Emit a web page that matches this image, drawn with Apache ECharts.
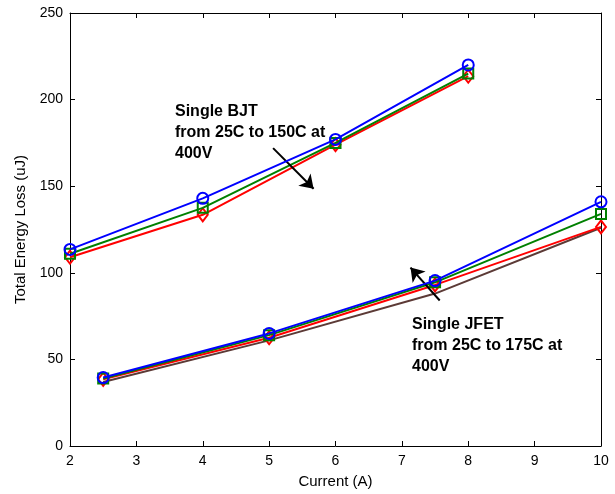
<!DOCTYPE html>
<html><head><meta charset="utf-8">
<script src="https://cdn.jsdelivr.net/npm/echarts@6/dist/echarts.min.js"></script>
<style>html,body{margin:0;padding:0;background:#fff}#c{width:615px;height:494px}</style>
</head><body><div id="c"></div>
<script>
const xTicks = [2,3,4,5,6,7,8,9,10];
const yTicks = [0,50,100,150,200,250];
const bjtCurrent = [2,4,6,8];
const bjtBlue = [113.5,143,177,220];
const bjtGreen = [111,137.5,175,215];
const bjtRed = [109,133.5,174,213.5];
const jfetCurrent = [2.5,5,7.5,10];
const jfetBlue = [39.5,65,95.5,141];
const jfetGreen = [39,64,94.5,134];
const jfetRed = [38.5,62.5,93,126.5];
const jfetBrown = [37,61,88,126];
const bjtArrow = [[5.06,172],[5.67,148.5]];
const jfetArrow = [[7.57,84],[7.13,103]];
const bjtText = 'Single BJT\nfrom 25C to 150C at\n400V';
const jfetText = 'Single JFET\nfrom 25C to 175C at\n400V';

const pair = (xs, ys) => xs.map((x,i)=>[x, ys[i]]);
const FONT = 'Liberation Sans, Arial, sans-serif';

function mk(name, xs, ys, color, symbol, size, z) {
  return {
    type:'line', name, data: pair(xs, ys), z: z,
    symbol: symbol, symbolSize: size, showSymbol: symbol !== 'none',
    lineStyle:{color, width:2},
    itemStyle:{color:'rgba(0,0,0,0)', borderColor:color, borderWidth:2},
    emphasis:{disabled:true}, animation:false
  };
}
function arrow(pts) {
  return {
    type:'line', data:[], silent:true, z:10,
    markLine:{
      silent:true, animation:false,
      symbol:['none','arrow'], symbolSize:13,
      lineStyle:{color:'#000', width:2, type:'solid'},
      itemStyle:{color:'#000'},
      label:{show:false},
      emphasis:{disabled:true},
      data:[[{coord:pts[0]},{coord:pts[1]}]]
    }
  };
}
const axisCommon = {
  axisLine:{show:true, onZero:false, lineStyle:{color:'#000', width:1}},
  axisTick:{show:true, inside:true, length:5, lineStyle:{color:'#000'}},
  splitLine:{show:false}
};
const chart = echarts.init(document.getElementById('c'), null, {renderer:'canvas'});
chart.setOption({
  backgroundColor:'#fff',
  animation:false,
  grid:{left:70, right:14, top:13, bottom:48},
  xAxis:[
    Object.assign({type:'value', min:2, max:10, interval:1, position:'bottom',
      name:'Current (A)', nameLocation:'middle', nameGap:28,
      nameTextStyle:{fontFamily:FONT, fontSize:15, color:'#000'},
      axisLabel:{fontFamily:FONT, fontSize:14, color:'#000', margin:8}}, axisCommon),
    Object.assign({type:'value', min:2, max:10, interval:1, position:'top',
      axisLabel:{show:false}}, axisCommon)
  ],
  yAxis:[
    Object.assign({type:'value', min:0, max:250, interval:50, position:'left',
      name:'Total Energy Loss (uJ)', nameLocation:'middle', nameGap:40,
      nameTextStyle:{fontFamily:FONT, fontSize:15, color:'#000'},
      axisLabel:{fontFamily:FONT, fontSize:14, color:'#000', margin:7}}, axisCommon),
    Object.assign({type:'value', min:0, max:250, interval:50, position:'right',
      axisLabel:{show:false}}, axisCommon)
  ],
  series:[
    mk('BJT red', bjtCurrent, bjtRed, '#ff0000', 'diamond', [10,13], 3),
    mk('BJT green', bjtCurrent, bjtGreen, '#008000', 'rect', 10, 4),
    mk('BJT blue', bjtCurrent, bjtBlue, '#0000ff', 'circle', 11, 5),
    mk('JFET brown', jfetCurrent, jfetBrown, '#5c3a36', 'none', 0, 2),
    mk('JFET red', jfetCurrent, jfetRed, '#ff0000', 'diamond', [10,13], 3),
    mk('JFET green', jfetCurrent, jfetGreen, '#008000', 'rect', 10, 4),
    mk('JFET blue', jfetCurrent, jfetBlue, '#0000ff', 'circle', 11, 5),
    arrow(bjtArrow), arrow(jfetArrow)
  ],
  graphic:[
    {type:'text', left:175, top:101, z:100,
     style:{text:bjtText, font:'bold 16px '+FONT, fill:'#000', lineHeight:21}},
    {type:'text', left:412, top:314, z:100,
     style:{text:jfetText, font:'bold 16px '+FONT, fill:'#000', lineHeight:21}}
  ]
});
</script></body></html>
